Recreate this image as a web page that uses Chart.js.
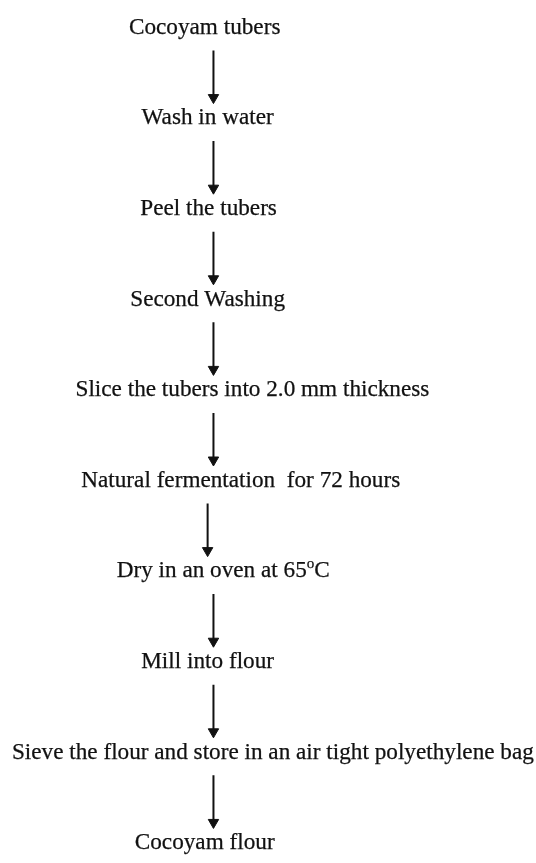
<!DOCTYPE html>
<html>
<head>
<meta charset="utf-8">
<script src="https://cdn.jsdelivr.net/npm/chart.js@4/dist/chart.umd.min.js"></script>
<style>
  html, body { margin: 0; padding: 0; background: #fff; }
  canvas { display: block; }
</style>
</head>
<body>
<canvas id="flow" width="536" height="863"></canvas>
<script>
// FLOW STEPS //

const steps = [
    'Cocoyam tubers',
    'Wash in water',
    'Peel the tubers',
    'Second Washing',
    'Slice the tubers into 2.0 mm thickness',
    'Natural fermentation  for 72 hours',
    'Dry in an oven at 65°C',
    'Mill into flour',
    'Sieve the flour and store in an air tight polyethylene bag',
    'Cocoyam flour'
];

// horizontal centre of each label
const stepCenter = [203, 206, 207, 206, 252, 240, 222, 206, 273, 203];

// horizontal place of each arrow (one between each pair of steps)
const arrowAt = [212, 212, 212, 212, 212, 206, 212, 212, 212];

const inkColor = '#111111';

// one line dataset per arrow, running from step i down to step i+1
const arrowSets = arrowAt.map((x, i) => ({
    data: [{ x: x, y: i + 0.23 }, { x: x, y: i + 0.75 }],
    borderColor: inkColor,
    backgroundColor: inkColor,
    borderWidth: 2,
    pointStyle: 'triangle',
    pointRotation: 180,
    pointRadius: [0, 6],
    pointBorderWidth: 1,
    pointBorderColor: inkColor,
    pointBackgroundColor: inkColor,
    showLine: true
}));

// STEP LABELS PLUGIN //

const stepLabels = {
    id: 'stepLabels',
    afterDatasetsDraw(chart) {
        const ctx = chart.ctx;
        const xs = chart.scales.x;
        const ys = chart.scales.y;

        // size the serif font so the longest line spans what it does in the picture
        ctx.save();
        ctx.font = '100px "Liberation Serif", "Times New Roman", serif';
        const longest = ctx.measureText(steps[8]).width;
        const size = 100 * 522 / longest;
        const font = size.toFixed(2) + 'px "Liberation Serif", "Times New Roman", serif';
        const small = (size * 0.65).toFixed(2) + 'px "Liberation Serif", "Times New Roman", serif';

        ctx.fillStyle = inkColor;
        ctx.strokeStyle = inkColor;
        ctx.lineWidth = 0.25;
        ctx.textBaseline = 'middle';
        ctx.textAlign = 'left';

        const put = (t, x, y) => {
            ctx.fillText(t, x, y);
            ctx.strokeText(t, x, y);
        };

        steps.forEach((text, i) => {
            const cx = xs.getPixelForValue(stepCenter[i]);
            const cy = ys.getPixelForValue(i) - 2;
            // the degree mark is set as a raised small "o"
            const parts = text.split('°');
            ctx.font = font;
            let total = ctx.measureText(parts[0]).width;
            let supW = 0;
            if (parts.length > 1) {
                ctx.font = small;
                supW = ctx.measureText('o').width;
                ctx.font = font;
                total += supW + ctx.measureText(parts[1]).width;
            }
            let left = cx - total / 2;
            ctx.font = font;
            put(parts[0], left, cy);
            if (parts.length > 1) {
                left += ctx.measureText(parts[0]).width;
                ctx.font = small;
                put('o', left, cy - size * 0.32);
                left += supW;
                ctx.font = font;
                put(parts[1], left, cy);
            }
        });
        ctx.restore();
    }
};

// CHART //

const flowCanvas = document.getElementById('flow');

let flowChart = new Chart(flowCanvas, {
    type: 'scatter',
    data: { datasets: arrowSets },
    options: {
        responsive: false,
        animation: false,
        layout: { padding: 0 },
        scales: {
            x: { type: 'linear', min: 0, max: 536, display: false },
            y: { type: 'linear', min: -0.2497, max: 9.1205, reverse: true, display: false }
        },
        plugins: {
            legend: { display: false },
            tooltip: { enabled: false }
        }
    },
    plugins: [stepLabels]
});
</script>
</body>
</html>
